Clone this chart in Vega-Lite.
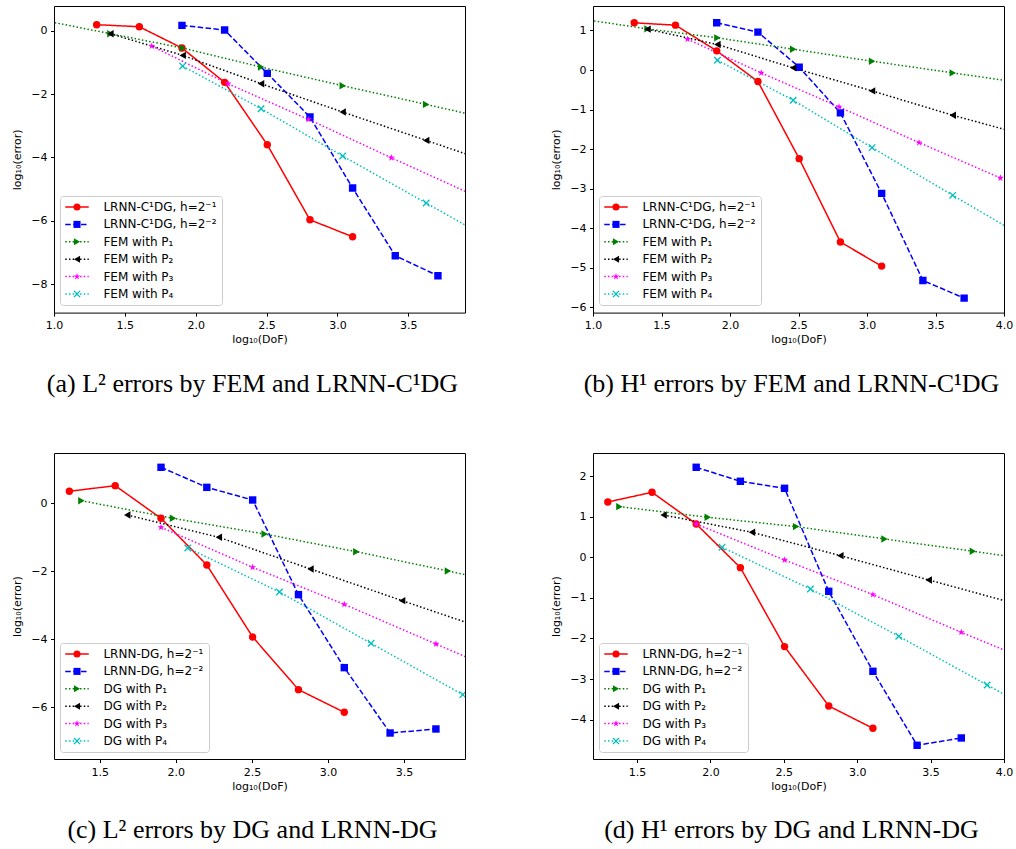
{
  "$schema": "https://vega.github.io/schema/vega-lite/v6.json",
  "background": "white",
  "padding": {"left": 11, "top": 5, "right": 0, "bottom": 0},
  "data": {"values": [
    {"panel":"a","series":"LRNN-C¹DG, h=2⁻¹","x":1.301,"y":0.19},
    {"panel":"a","series":"LRNN-C¹DG, h=2⁻¹","x":1.602,"y":0.126},
    {"panel":"a","series":"LRNN-C¹DG, h=2⁻¹","x":1.903,"y":-0.547},
    {"panel":"a","series":"LRNN-C¹DG, h=2⁻¹","x":2.204,"y":-1.63},
    {"panel":"a","series":"LRNN-C¹DG, h=2⁻¹","x":2.505,"y":-3.6},
    {"panel":"a","series":"LRNN-C¹DG, h=2⁻¹","x":2.806,"y":-5.97},
    {"panel":"a","series":"LRNN-C¹DG, h=2⁻¹","x":3.107,"y":-6.505},
    {"panel":"a","series":"LRNN-C¹DG, h=2⁻²","x":1.903,"y":0.168},
    {"panel":"a","series":"LRNN-C¹DG, h=2⁻²","x":2.204,"y":0.02},
    {"panel":"a","series":"LRNN-C¹DG, h=2⁻²","x":2.505,"y":-1.347},
    {"panel":"a","series":"LRNN-C¹DG, h=2⁻²","x":2.806,"y":-2.726},
    {"panel":"a","series":"LRNN-C¹DG, h=2⁻²","x":3.107,"y":-4.968},
    {"panel":"a","series":"LRNN-C¹DG, h=2⁻²","x":3.408,"y":-7.105},
    {"panel":"a","series":"LRNN-C¹DG, h=2⁻²","x":3.709,"y":-7.737},
    {"panel":"a","series":"FEM with P₁","x":0.954,"y":0.30},
    {"panel":"a","series":"FEM with P₁","x":1.398,"y":-0.095},
    {"panel":"a","series":"FEM with P₁","x":1.908,"y":-0.547},
    {"panel":"a","series":"FEM with P₁","x":2.461,"y":-1.147},
    {"panel":"a","series":"FEM with P₁","x":3.037,"y":-1.737},
    {"panel":"a","series":"FEM with P₁","x":3.626,"y":-2.326},
    {"panel":"a","series":"FEM with P₁","x":4.221,"y":-2.93},
    {"panel":"a","series":"FEM with P₂","x":1.398,"y":-0.095},
    {"panel":"a","series":"FEM with P₂","x":1.908,"y":-0.779},
    {"panel":"a","series":"FEM with P₂","x":2.461,"y":-1.674},
    {"panel":"a","series":"FEM with P₂","x":3.037,"y":-2.568},
    {"panel":"a","series":"FEM with P₂","x":3.626,"y":-3.463},
    {"panel":"a","series":"FEM with P₂","x":4.221,"y":-4.37},
    {"panel":"a","series":"FEM with P₃","x":1.690,"y":-0.484},
    {"panel":"a","series":"FEM with P₃","x":2.228,"y":-1.674},
    {"panel":"a","series":"FEM with P₃","x":2.796,"y":-2.80},
    {"panel":"a","series":"FEM with P₃","x":3.380,"y":-4.01},
    {"panel":"a","series":"FEM with P₃","x":3.974,"y":-5.22},
    {"panel":"a","series":"FEM with P₄","x":1.908,"y":-1.116},
    {"panel":"a","series":"FEM with P₄","x":2.461,"y":-2.463},
    {"panel":"a","series":"FEM with P₄","x":3.037,"y":-3.958},
    {"panel":"a","series":"FEM with P₄","x":3.626,"y":-5.442},
    {"panel":"a","series":"FEM with P₄","x":4.221,"y":-6.94},

    {"panel":"b","series":"LRNN-C¹DG, h=2⁻¹","x":1.301,"y":1.194},
    {"panel":"b","series":"LRNN-C¹DG, h=2⁻¹","x":1.602,"y":1.135},
    {"panel":"b","series":"LRNN-C¹DG, h=2⁻¹","x":1.903,"y":0.485},
    {"panel":"b","series":"LRNN-C¹DG, h=2⁻¹","x":2.204,"y":-0.292},
    {"panel":"b","series":"LRNN-C¹DG, h=2⁻¹","x":2.505,"y":-2.243},
    {"panel":"b","series":"LRNN-C¹DG, h=2⁻¹","x":2.806,"y":-4.355},
    {"panel":"b","series":"LRNN-C¹DG, h=2⁻¹","x":3.107,"y":-4.963},
    {"panel":"b","series":"LRNN-C¹DG, h=2⁻²","x":1.903,"y":1.194},
    {"panel":"b","series":"LRNN-C¹DG, h=2⁻²","x":2.204,"y":0.958},
    {"panel":"b","series":"LRNN-C¹DG, h=2⁻²","x":2.505,"y":0.071},
    {"panel":"b","series":"LRNN-C¹DG, h=2⁻²","x":2.806,"y":-1.086},
    {"panel":"b","series":"LRNN-C¹DG, h=2⁻²","x":3.107,"y":-3.122},
    {"panel":"b","series":"LRNN-C¹DG, h=2⁻²","x":3.408,"y":-5.326},
    {"panel":"b","series":"LRNN-C¹DG, h=2⁻²","x":3.709,"y":-5.774},
    {"panel":"b","series":"FEM with P₁","x":0.954,"y":1.27},
    {"panel":"b","series":"FEM with P₁","x":1.398,"y":1.042},
    {"panel":"b","series":"FEM with P₁","x":1.908,"y":0.814},
    {"panel":"b","series":"FEM with P₁","x":2.461,"y":0.527},
    {"panel":"b","series":"FEM with P₁","x":3.037,"y":0.223},
    {"panel":"b","series":"FEM with P₁","x":3.626,"y":-0.073},
    {"panel":"b","series":"FEM with P₁","x":4.221,"y":-0.37},
    {"panel":"b","series":"FEM with P₂","x":1.398,"y":1.034},
    {"panel":"b","series":"FEM with P₂","x":1.908,"y":0.645},
    {"panel":"b","series":"FEM with P₂","x":2.461,"y":0.054},
    {"panel":"b","series":"FEM with P₂","x":3.037,"y":-0.529},
    {"panel":"b","series":"FEM with P₂","x":3.626,"y":-1.145},
    {"panel":"b","series":"FEM with P₂","x":4.221,"y":-1.71},
    {"panel":"b","series":"FEM with P₃","x":1.690,"y":0.780},
    {"panel":"b","series":"FEM with P₃","x":2.228,"y":-0.073},
    {"panel":"b","series":"FEM with P₃","x":2.796,"y":-0.934},
    {"panel":"b","series":"FEM with P₃","x":3.380,"y":-1.838},
    {"panel":"b","series":"FEM with P₃","x":3.974,"y":-2.733},
    {"panel":"b","series":"FEM with P₄","x":1.908,"y":0.248},
    {"panel":"b","series":"FEM with P₄","x":2.461,"y":-0.765},
    {"panel":"b","series":"FEM with P₄","x":3.037,"y":-1.965},
    {"panel":"b","series":"FEM with P₄","x":3.626,"y":-3.172},
    {"panel":"b","series":"FEM with P₄","x":4.221,"y":-4.38},

    {"panel":"c","series":"LRNN-DG, h=2⁻¹","x":1.301,"y":0.353},
    {"panel":"c","series":"LRNN-DG, h=2⁻¹","x":1.602,"y":0.52},
    {"panel":"c","series":"LRNN-DG, h=2⁻¹","x":1.903,"y":-0.441},
    {"panel":"c","series":"LRNN-DG, h=2⁻¹","x":2.204,"y":-1.814},
    {"panel":"c","series":"LRNN-DG, h=2⁻¹","x":2.505,"y":-3.93},
    {"panel":"c","series":"LRNN-DG, h=2⁻¹","x":2.806,"y":-5.48},
    {"panel":"c","series":"LRNN-DG, h=2⁻¹","x":3.107,"y":-6.147},
    {"panel":"c","series":"LRNN-DG, h=2⁻²","x":1.903,"y":1.059},
    {"panel":"c","series":"LRNN-DG, h=2⁻²","x":2.204,"y":0.47},
    {"panel":"c","series":"LRNN-DG, h=2⁻²","x":2.505,"y":0.098},
    {"panel":"c","series":"LRNN-DG, h=2⁻²","x":2.806,"y":-2.686},
    {"panel":"c","series":"LRNN-DG, h=2⁻²","x":3.107,"y":-4.833},
    {"panel":"c","series":"LRNN-DG, h=2⁻²","x":3.408,"y":-6.755},
    {"panel":"c","series":"LRNN-DG, h=2⁻²","x":3.709,"y":-6.637},
    {"panel":"c","series":"DG with P₁","x":1.380,"y":0.078},
    {"panel":"c","series":"DG with P₁","x":1.982,"y":-0.441},
    {"panel":"c","series":"DG with P₁","x":2.584,"y":-0.902},
    {"panel":"c","series":"DG with P₁","x":3.186,"y":-1.422},
    {"panel":"c","series":"DG with P₁","x":3.788,"y":-1.99},
    {"panel":"c","series":"DG with P₁","x":4.390,"y":-2.56},
    {"panel":"c","series":"DG with P₂","x":1.681,"y":-0.343},
    {"panel":"c","series":"DG with P₂","x":2.283,"y":-1.0},
    {"panel":"c","series":"DG with P₂","x":2.885,"y":-1.931},
    {"panel":"c","series":"DG with P₂","x":3.487,"y":-2.863},
    {"panel":"c","series":"DG with P₂","x":4.090,"y":-3.78},
    {"panel":"c","series":"DG with P₃","x":1.903,"y":-0.706},
    {"panel":"c","series":"DG with P₃","x":2.505,"y":-1.882},
    {"panel":"c","series":"DG with P₃","x":3.107,"y":-2.971},
    {"panel":"c","series":"DG with P₃","x":3.709,"y":-4.137},
    {"panel":"c","series":"DG with P₃","x":4.311,"y":-5.30},
    {"panel":"c","series":"DG with P₄","x":2.079,"y":-1.314},
    {"panel":"c","series":"DG with P₄","x":2.681,"y":-2.608},
    {"panel":"c","series":"DG with P₄","x":3.283,"y":-4.118},
    {"panel":"c","series":"DG with P₄","x":3.885,"y":-5.627},
    {"panel":"c","series":"DG with P₄","x":4.487,"y":-7.13},

    {"panel":"d","series":"LRNN-DG, h=2⁻¹","x":1.301,"y":1.363},
    {"panel":"d","series":"LRNN-DG, h=2⁻¹","x":1.602,"y":1.602},
    {"panel":"d","series":"LRNN-DG, h=2⁻¹","x":1.903,"y":0.821},
    {"panel":"d","series":"LRNN-DG, h=2⁻¹","x":2.204,"y":-0.255},
    {"panel":"d","series":"LRNN-DG, h=2⁻¹","x":2.505,"y":-2.201},
    {"panel":"d","series":"LRNN-DG, h=2⁻¹","x":2.806,"y":-3.663},
    {"panel":"d","series":"LRNN-DG, h=2⁻¹","x":3.107,"y":-4.214},
    {"panel":"d","series":"LRNN-DG, h=2⁻²","x":1.903,"y":2.218},
    {"panel":"d","series":"LRNN-DG, h=2⁻²","x":2.204,"y":1.873},
    {"panel":"d","series":"LRNN-DG, h=2⁻²","x":2.505,"y":1.70},
    {"panel":"d","series":"LRNN-DG, h=2⁻²","x":2.806,"y":-0.838},
    {"panel":"d","series":"LRNN-DG, h=2⁻²","x":3.107,"y":-2.809},
    {"panel":"d","series":"LRNN-DG, h=2⁻²","x":3.408,"y":-4.632},
    {"panel":"d","series":"LRNN-DG, h=2⁻²","x":3.709,"y":-4.452},
    {"panel":"d","series":"DG with P₁","x":1.380,"y":1.248},
    {"panel":"d","series":"DG with P₁","x":1.982,"y":0.986},
    {"panel":"d","series":"DG with P₁","x":2.584,"y":0.756},
    {"panel":"d","series":"DG with P₁","x":3.186,"y":0.452},
    {"panel":"d","series":"DG with P₁","x":3.788,"y":0.148},
    {"panel":"d","series":"DG with P₁","x":4.390,"y":-0.153},
    {"panel":"d","series":"DG with P₂","x":1.681,"y":1.043},
    {"panel":"d","series":"DG with P₂","x":2.283,"y":0.616},
    {"panel":"d","series":"DG with P₂","x":2.885,"y":0.041},
    {"panel":"d","series":"DG with P₂","x":3.487,"y":-0.558},
    {"panel":"d","series":"DG with P₂","x":4.090,"y":-1.155},
    {"panel":"d","series":"DG with P₃","x":1.903,"y":0.821},
    {"panel":"d","series":"DG with P₃","x":2.505,"y":-0.066},
    {"panel":"d","series":"DG with P₃","x":3.107,"y":-0.92},
    {"panel":"d","series":"DG with P₃","x":3.709,"y":-1.848},
    {"panel":"d","series":"DG with P₃","x":4.311,"y":-2.75},
    {"panel":"d","series":"DG with P₄","x":2.079,"y":0.246},
    {"panel":"d","series":"DG with P₄","x":2.681,"y":-0.78},
    {"panel":"d","series":"DG with P₄","x":3.283,"y":-1.947},
    {"panel":"d","series":"DG with P₄","x":3.885,"y":-3.146},
    {"panel":"d","series":"DG with P₄","x":4.487,"y":-4.35}
  ]},
  "bounds": "flush",
  "columns": 2,
  "spacing": {"row": 140, "column": 128},
  "resolve": {
    "scale": {"x": "independent", "y": "independent", "stroke": "independent", "strokeDash": "independent", "fill": "independent", "shape": "independent"},
    "legend": {"stroke": "independent", "strokeDash": "independent", "fill": "independent", "shape": "independent"}
  },
  "concat": [
    {
      "width": 411, "height": 306.6,
      "title": {"text": "(a) L² errors by FEM and LRNN-C¹DG", "orient": "bottom", "anchor": "middle", "frame": "group", "dx": -7, "offset": 26, "font": "Liberation Serif", "fontSize": 26, "fontWeight": "normal", "color": "black"},
      "transform": [{"filter": "datum.panel === 'a'"}],
      "layer": [
        {"mark": {"type": "line", "clip": true, "strokeWidth": 1.5},
         "encoding": {
           "x": {"field": "x", "type": "quantitative", "scale": {"domain": [1.0, 3.9], "nice": false, "zero": false}, "axis": {"values": [1.0, 1.5, 2.0, 2.5, 3.0, 3.5], "format": ".1f", "title": "log₁₀(DoF)"}},
           "y": {"field": "y", "type": "quantitative", "scale": {"domain": [-8.9, 0.78], "nice": false, "zero": false}, "axis": {"values": [0, -2, -4, -6, -8], "format": "d", "title": "log₁₀(error)"}},
           "stroke": {"field": "series", "type": "nominal", "scale": {"domain": ["LRNN-C¹DG, h=2⁻¹","LRNN-C¹DG, h=2⁻²","FEM with P₁","FEM with P₂","FEM with P₃","FEM with P₄"], "range": ["#ff0000","#0000ff","#008000","#000000","#ff00ff","#00bfbf"]},
             "legend": {"title": null, "orient": "none", "legendX": 6, "legendY": 190, "padding": 5, "strokeColor": "#cccccc", "cornerRadius": 3, "symbolType": "M-3.5,0L3.5,0", "symbolSize": 45, "symbolStrokeWidth": 1.5, "symbolOffset": 6, "labelFont": "DejaVu Sans", "labelFontSize": 12, "labelColor": "black", "labelOffset": 20.4, "rowPadding": 5.4, "labelLimit": 300}},
           "strokeDash": {"field": "series", "type": "nominal", "scale": {"domain": ["LRNN-C¹DG, h=2⁻¹","LRNN-C¹DG, h=2⁻²","FEM with P₁","FEM with P₂","FEM with P₃","FEM with P₄"], "range": [[1,0],[5.5,2.4],[1.5,2.2],[1.5,2.2],[1.5,2.2],[1.5,2.2]]},
             "legend": {"title": null, "orient": "none", "legendX": 6, "legendY": 190, "padding": 5, "strokeColor": "#cccccc", "cornerRadius": 3, "symbolType": "M-3.5,0L3.5,0", "symbolSize": 45, "symbolStrokeWidth": 1.5, "symbolOffset": 6, "labelFont": "DejaVu Sans", "labelFontSize": 12, "labelColor": "black", "labelOffset": 20.4, "rowPadding": 5.4, "labelLimit": 300}}
         }},
        {"mark": {"type": "point", "filled": true, "clip": true, "size": 55, "opacity": 1, "strokeWidth": 0},
         "encoding": {
           "x": {"field": "x", "type": "quantitative"},
           "y": {"field": "y", "type": "quantitative"},
           "fill": {"field": "series", "type": "nominal", "sort": null, "scale": {"range": ["#ff0000","#0000ff","#008000","#000000","#ff00ff","#00bfbf"]},
             "legend": {"title": null, "orient": "none", "legendX": 6, "legendY": 190, "padding": 5, "symbolSize": 50, "symbolStrokeWidth": 0, "symbolOffset": 6, "labelFont": "DejaVu Sans", "labelFontSize": 12, "labelOpacity": 0, "labelOffset": 20.4, "rowPadding": 5.4}},
           "shape": {"field": "series", "type": "nominal", "sort": null, "scale": {"range": ["circle","square","triangle-right","triangle-left","M0,-1L0.2245,-0.309L0.951,-0.309L0.363,0.118L0.588,0.809L0,0.382L-0.588,0.809L-0.363,0.118L-0.951,-0.309L-0.2245,-0.309Z","M-1,-0.75L-0.75,-1L0,-0.25L0.75,-1L1,-0.75L0.25,0L1,0.75L0.75,1L0,0.25L-0.75,1L-1,0.75L-0.25,0Z"]},
             "legend": {"title": null, "orient": "none", "legendX": 6, "legendY": 190, "padding": 5, "symbolSize": 50, "symbolStrokeWidth": 0, "symbolOffset": 6, "labelFont": "DejaVu Sans", "labelFontSize": 12, "labelOpacity": 0, "labelOffset": 20.4, "rowPadding": 5.4}}
         }}
      ]
    },
    {
      "width": 411, "height": 306.6,
      "title": {"text": "(b) H¹ errors by FEM and LRNN-C¹DG", "orient": "bottom", "anchor": "middle", "frame": "group", "dx": -7, "offset": 26, "font": "Liberation Serif", "fontSize": 26, "fontWeight": "normal", "color": "black"},
      "transform": [{"filter": "datum.panel === 'b'"}],
      "layer": [
        {"mark": {"type": "line", "clip": true, "strokeWidth": 1.5},
         "encoding": {
           "x": {"field": "x", "type": "quantitative", "scale": {"domain": [1.0, 4.0], "nice": false, "zero": false}, "axis": {"values": [1.0, 1.5, 2.0, 2.5, 3.0, 3.5, 4.0], "format": ".1f", "title": "log₁₀(DoF)"}},
           "y": {"field": "y", "type": "quantitative", "scale": {"domain": [-6.14, 1.62], "nice": false, "zero": false}, "axis": {"values": [1, 0, -1, -2, -3, -4, -5, -6], "format": "d", "title": "log₁₀(error)"}},
           "stroke": {"field": "series", "type": "nominal", "scale": {"domain": ["LRNN-C¹DG, h=2⁻¹","LRNN-C¹DG, h=2⁻²","FEM with P₁","FEM with P₂","FEM with P₃","FEM with P₄"], "range": ["#ff0000","#0000ff","#008000","#000000","#ff00ff","#00bfbf"]},
             "legend": {"title": null, "orient": "none", "legendX": 6, "legendY": 190, "padding": 5, "strokeColor": "#cccccc", "cornerRadius": 3, "symbolType": "M-3.5,0L3.5,0", "symbolSize": 45, "symbolStrokeWidth": 1.5, "symbolOffset": 6, "labelFont": "DejaVu Sans", "labelFontSize": 12, "labelColor": "black", "labelOffset": 20.4, "rowPadding": 5.4, "labelLimit": 300}},
           "strokeDash": {"field": "series", "type": "nominal", "scale": {"domain": ["LRNN-C¹DG, h=2⁻¹","LRNN-C¹DG, h=2⁻²","FEM with P₁","FEM with P₂","FEM with P₃","FEM with P₄"], "range": [[1,0],[5.5,2.4],[1.5,2.2],[1.5,2.2],[1.5,2.2],[1.5,2.2]]},
             "legend": {"title": null, "orient": "none", "legendX": 6, "legendY": 190, "padding": 5, "strokeColor": "#cccccc", "cornerRadius": 3, "symbolType": "M-3.5,0L3.5,0", "symbolSize": 45, "symbolStrokeWidth": 1.5, "symbolOffset": 6, "labelFont": "DejaVu Sans", "labelFontSize": 12, "labelColor": "black", "labelOffset": 20.4, "rowPadding": 5.4, "labelLimit": 300}}
         }},
        {"mark": {"type": "point", "filled": true, "clip": true, "size": 55, "opacity": 1, "strokeWidth": 0},
         "encoding": {
           "x": {"field": "x", "type": "quantitative"},
           "y": {"field": "y", "type": "quantitative"},
           "fill": {"field": "series", "type": "nominal", "sort": null, "scale": {"range": ["#ff0000","#0000ff","#008000","#000000","#ff00ff","#00bfbf"]},
             "legend": {"title": null, "orient": "none", "legendX": 6, "legendY": 190, "padding": 5, "symbolSize": 50, "symbolStrokeWidth": 0, "symbolOffset": 6, "labelFont": "DejaVu Sans", "labelFontSize": 12, "labelOpacity": 0, "labelOffset": 20.4, "rowPadding": 5.4}},
           "shape": {"field": "series", "type": "nominal", "sort": null, "scale": {"range": ["circle","square","triangle-right","triangle-left","M0,-1L0.2245,-0.309L0.951,-0.309L0.363,0.118L0.588,0.809L0,0.382L-0.588,0.809L-0.363,0.118L-0.951,-0.309L-0.2245,-0.309Z","M-1,-0.75L-0.75,-1L0,-0.25L0.75,-1L1,-0.75L0.25,0L1,0.75L0.75,1L0,0.25L-0.75,1L-1,0.75L-0.25,0Z"]},
             "legend": {"title": null, "orient": "none", "legendX": 6, "legendY": 190, "padding": 5, "symbolSize": 50, "symbolStrokeWidth": 0, "symbolOffset": 6, "labelFont": "DejaVu Sans", "labelFontSize": 12, "labelOpacity": 0, "labelOffset": 20.4, "rowPadding": 5.4}}
         }}
      ]
    },
    {
      "width": 411, "height": 306,
      "title": {"text": "(c) L² errors by DG and LRNN-DG", "orient": "bottom", "anchor": "middle", "frame": "group", "dx": -7, "offset": 26, "font": "Liberation Serif", "fontSize": 26, "fontWeight": "normal", "color": "black"},
      "transform": [{"filter": "datum.panel === 'c'"}],
      "layer": [
        {"mark": {"type": "line", "clip": true, "strokeWidth": 1.5},
         "encoding": {
           "x": {"field": "x", "type": "quantitative", "scale": {"domain": [1.2, 3.9], "nice": false, "zero": false}, "axis": {"values": [1.5, 2.0, 2.5, 3.0, 3.5], "format": ".1f", "title": "log₁₀(DoF)"}},
           "y": {"field": "y", "type": "quantitative", "scale": {"domain": [-7.52, 1.48], "nice": false, "zero": false}, "axis": {"values": [0, -2, -4, -6], "format": "d", "title": "log₁₀(error)"}},
           "stroke": {"field": "series", "type": "nominal", "scale": {"domain": ["LRNN-DG, h=2⁻¹","LRNN-DG, h=2⁻²","DG with P₁","DG with P₂","DG with P₃","DG with P₄"], "range": ["#ff0000","#0000ff","#008000","#000000","#ff00ff","#00bfbf"]},
             "legend": {"title": null, "orient": "none", "legendX": 6, "legendY": 190, "padding": 5, "strokeColor": "#cccccc", "cornerRadius": 3, "symbolType": "M-3.5,0L3.5,0", "symbolSize": 45, "symbolStrokeWidth": 1.5, "symbolOffset": 6, "labelFont": "DejaVu Sans", "labelFontSize": 12, "labelColor": "black", "labelOffset": 20.4, "rowPadding": 5.4, "labelLimit": 300}},
           "strokeDash": {"field": "series", "type": "nominal", "scale": {"domain": ["LRNN-DG, h=2⁻¹","LRNN-DG, h=2⁻²","DG with P₁","DG with P₂","DG with P₃","DG with P₄"], "range": [[1,0],[5.5,2.4],[1.5,2.2],[1.5,2.2],[1.5,2.2],[1.5,2.2]]},
             "legend": {"title": null, "orient": "none", "legendX": 6, "legendY": 190, "padding": 5, "strokeColor": "#cccccc", "cornerRadius": 3, "symbolType": "M-3.5,0L3.5,0", "symbolSize": 45, "symbolStrokeWidth": 1.5, "symbolOffset": 6, "labelFont": "DejaVu Sans", "labelFontSize": 12, "labelColor": "black", "labelOffset": 20.4, "rowPadding": 5.4, "labelLimit": 300}}
         }},
        {"mark": {"type": "point", "filled": true, "clip": true, "size": 55, "opacity": 1, "strokeWidth": 0},
         "encoding": {
           "x": {"field": "x", "type": "quantitative"},
           "y": {"field": "y", "type": "quantitative"},
           "fill": {"field": "series", "type": "nominal", "sort": null, "scale": {"range": ["#ff0000","#0000ff","#008000","#000000","#ff00ff","#00bfbf"]},
             "legend": {"title": null, "orient": "none", "legendX": 6, "legendY": 190, "padding": 5, "symbolSize": 50, "symbolStrokeWidth": 0, "symbolOffset": 6, "labelFont": "DejaVu Sans", "labelFontSize": 12, "labelOpacity": 0, "labelOffset": 20.4, "rowPadding": 5.4}},
           "shape": {"field": "series", "type": "nominal", "sort": null, "scale": {"range": ["circle","square","triangle-right","triangle-left","M0,-1L0.2245,-0.309L0.951,-0.309L0.363,0.118L0.588,0.809L0,0.382L-0.588,0.809L-0.363,0.118L-0.951,-0.309L-0.2245,-0.309Z","M-1,-0.75L-0.75,-1L0,-0.25L0.75,-1L1,-0.75L0.25,0L1,0.75L0.75,1L0,0.25L-0.75,1L-1,0.75L-0.25,0Z"]},
             "legend": {"title": null, "orient": "none", "legendX": 6, "legendY": 190, "padding": 5, "symbolSize": 50, "symbolStrokeWidth": 0, "symbolOffset": 6, "labelFont": "DejaVu Sans", "labelFontSize": 12, "labelOpacity": 0, "labelOffset": 20.4, "rowPadding": 5.4}}
         }}
      ]
    },
    {
      "width": 411, "height": 306,
      "title": {"text": "(d) H¹ errors by DG and LRNN-DG", "orient": "bottom", "anchor": "middle", "frame": "group", "dx": -7, "offset": 26, "font": "Liberation Serif", "fontSize": 26, "fontWeight": "normal", "color": "black"},
      "transform": [{"filter": "datum.panel === 'd'"}],
      "layer": [
        {"mark": {"type": "line", "clip": true, "strokeWidth": 1.5},
         "encoding": {
           "x": {"field": "x", "type": "quantitative", "scale": {"domain": [1.2, 4.0], "nice": false, "zero": false}, "axis": {"values": [1.5, 2.0, 2.5, 3.0, 3.5, 4.0], "format": ".1f", "title": "log₁₀(DoF)"}},
           "y": {"field": "y", "type": "quantitative", "scale": {"domain": [-4.97, 2.57], "nice": false, "zero": false}, "axis": {"values": [2, 1, 0, -1, -2, -3, -4], "format": "d", "title": "log₁₀(error)"}},
           "stroke": {"field": "series", "type": "nominal", "scale": {"domain": ["LRNN-DG, h=2⁻¹","LRNN-DG, h=2⁻²","DG with P₁","DG with P₂","DG with P₃","DG with P₄"], "range": ["#ff0000","#0000ff","#008000","#000000","#ff00ff","#00bfbf"]},
             "legend": {"title": null, "orient": "none", "legendX": 6, "legendY": 190, "padding": 5, "strokeColor": "#cccccc", "cornerRadius": 3, "symbolType": "M-3.5,0L3.5,0", "symbolSize": 45, "symbolStrokeWidth": 1.5, "symbolOffset": 6, "labelFont": "DejaVu Sans", "labelFontSize": 12, "labelColor": "black", "labelOffset": 20.4, "rowPadding": 5.4, "labelLimit": 300}},
           "strokeDash": {"field": "series", "type": "nominal", "scale": {"domain": ["LRNN-DG, h=2⁻¹","LRNN-DG, h=2⁻²","DG with P₁","DG with P₂","DG with P₃","DG with P₄"], "range": [[1,0],[5.5,2.4],[1.5,2.2],[1.5,2.2],[1.5,2.2],[1.5,2.2]]},
             "legend": {"title": null, "orient": "none", "legendX": 6, "legendY": 190, "padding": 5, "strokeColor": "#cccccc", "cornerRadius": 3, "symbolType": "M-3.5,0L3.5,0", "symbolSize": 45, "symbolStrokeWidth": 1.5, "symbolOffset": 6, "labelFont": "DejaVu Sans", "labelFontSize": 12, "labelColor": "black", "labelOffset": 20.4, "rowPadding": 5.4, "labelLimit": 300}}
         }},
        {"mark": {"type": "point", "filled": true, "clip": true, "size": 55, "opacity": 1, "strokeWidth": 0},
         "encoding": {
           "x": {"field": "x", "type": "quantitative"},
           "y": {"field": "y", "type": "quantitative"},
           "fill": {"field": "series", "type": "nominal", "sort": null, "scale": {"range": ["#ff0000","#0000ff","#008000","#000000","#ff00ff","#00bfbf"]},
             "legend": {"title": null, "orient": "none", "legendX": 6, "legendY": 190, "padding": 5, "symbolSize": 50, "symbolStrokeWidth": 0, "symbolOffset": 6, "labelFont": "DejaVu Sans", "labelFontSize": 12, "labelOpacity": 0, "labelOffset": 20.4, "rowPadding": 5.4}},
           "shape": {"field": "series", "type": "nominal", "sort": null, "scale": {"range": ["circle","square","triangle-right","triangle-left","M0,-1L0.2245,-0.309L0.951,-0.309L0.363,0.118L0.588,0.809L0,0.382L-0.588,0.809L-0.363,0.118L-0.951,-0.309L-0.2245,-0.309Z","M-1,-0.75L-0.75,-1L0,-0.25L0.75,-1L1,-0.75L0.25,0L1,0.75L0.75,1L0,0.25L-0.75,1L-1,0.75L-0.25,0Z"]},
             "legend": {"title": null, "orient": "none", "legendX": 6, "legendY": 190, "padding": 5, "symbolSize": 50, "symbolStrokeWidth": 0, "symbolOffset": 6, "labelFont": "DejaVu Sans", "labelFontSize": 12, "labelOpacity": 0, "labelOffset": 20.4, "rowPadding": 5.4}}
         }}
      ]
    }
  ],
  "config": {
    "view": {"stroke": "black", "strokeWidth": 1},
    "axis": {"domain": false, "grid": false, "ticks": true, "tickColor": "black", "tickSize": 3.5, "tickWidth": 1, "labelFont": "DejaVu Sans", "labelFontSize": 11, "labelColor": "black", "labelPadding": 3.5, "labelFlush": false, "labelOverlap": false, "titleFont": "DejaVu Sans", "titleFontSize": 11, "titleFontWeight": "normal", "titleColor": "black"},
    "axisX": {"titlePadding": 3},
    "axisY": {"titlePadding": 8}
  }
}
